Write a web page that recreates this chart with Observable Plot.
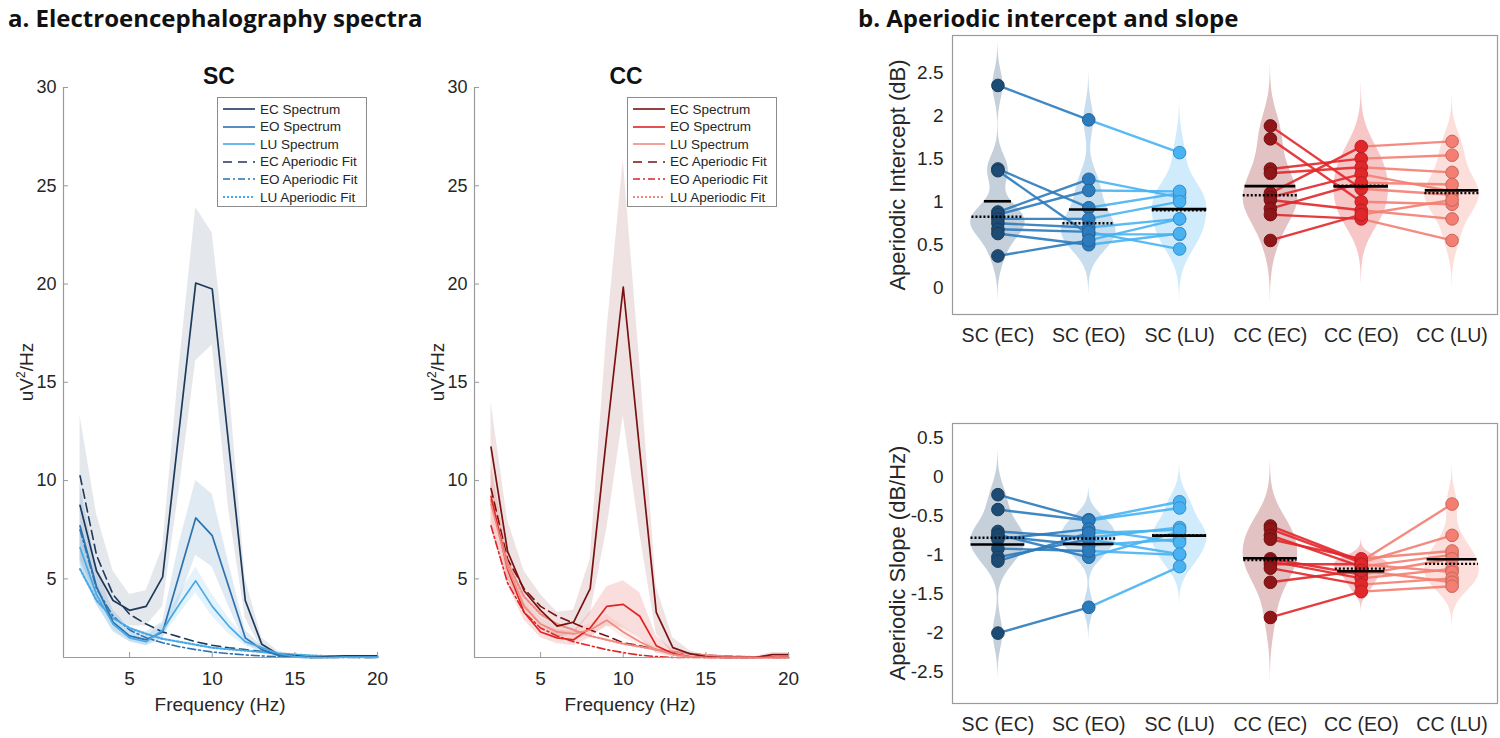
<!DOCTYPE html>
<html><head><meta charset="utf-8">
<script src="https://cdn.jsdelivr.net/npm/d3@7"></script>
<script src="https://cdn.jsdelivr.net/npm/@observablehq/plot@0.6"></script>
<style>
body{margin:0;background:#fff;}
#root{position:relative;width:1500px;height:738px;overflow:hidden;font-family:"Liberation Sans",Arial,Helvetica,sans-serif;color:#262626;background:#fff;}
.abs{position:absolute;white-space:nowrap;}
.ptitle{font-family:"Open Sans",sans-serif;font-weight:700;font-size:24px;color:#111;line-height:30px;}
.stitle{font-weight:700;font-size:23px;color:#111;transform:translate(-50%,-50%);}
.xlab{font-size:19px;transform:translate(-50%,-50%);}
.ylab{transform:translate(-50%,-50%) rotate(-90deg);}
.legend{position:absolute;border:1px solid #8c8c8c;background:#fff;width:150px;height:110px;box-sizing:border-box;}
.legend .row{position:absolute;left:4px;height:18px;display:flex;align-items:center;font-size:13.5px;white-space:nowrap;color:#262626;}
.legend svg{margin-right:4px;}
svg.plot{position:absolute;overflow:visible;}
</style></head><body><div id="root"></div>
<script>
// ---------- spectra data ----------
const freqs = [2,3,4,5,6,7,8,9,10,11,12,13,14,15,16,17,18,19,20];

const scEC   = [8.74,5.4,3.9,3.4,3.6,5.1,12.6,20.05,19.75,11.8,3.9,1.67,1.16,1.08,1.0,1.04,1.08,1.08,1.08];
const scECHi = [13.3,8.3,5.4,4.2,4.4,6.6,15.8,23.9,22.6,15.0,5.0,2.0,1.3,1.15,1.05,1.08,1.12,1.12,1.12];
const scECLo = [6.0,4.0,3.1,2.6,2.6,3.6,9.5,16.1,16.9,8.5,3.0,1.4,1.05,1.0,1.0,1.0,1.02,1.02,1.02];
const scEO   = [7.7,4.6,2.8,2.1,1.9,2.3,5.2,8.1,7.2,4.6,2.0,1.4,1.1,1.02,1.0,1.0,1.02,1.02,1.02];
const scEOHi = [9.8,5.6,3.4,2.5,2.3,2.8,6.8,10.0,9.3,5.8,2.4,1.55,1.2,1.08,1.03,1.04,1.06,1.06,1.06];
const scEOLo = [5.8,3.7,2.3,1.8,1.6,1.9,3.9,6.2,5.6,3.6,1.7,1.2,1.03,1.0,1.0,1.0,1.0,1.0,1.0];
const scLU   = [6.6,4.2,2.7,2.0,1.8,2.4,3.7,4.9,3.6,2.6,1.8,1.5,1.2,1.05,1.0,1.0,1.02,1.02,1.02];
const scLUHi = [7.6,4.8,3.1,2.3,2.1,2.7,4.2,5.6,4.2,3.0,2.0,1.6,1.25,1.08,1.03,1.03,1.05,1.05,1.05];
const scLULo = [5.6,3.7,2.4,1.8,1.6,2.1,3.2,4.3,3.1,2.2,1.6,1.35,1.1,1.0,1.0,1.0,1.0,1.0,1.0];
const scECFit = [10.25,6.2,4.2,3.2,2.7,2.3,2.05,1.8,1.62,1.5,1.4,1.3,1.2,1.12,1.07,1.04,1.02,1.0,1.0];
const scEOFit = [7.5,4.5,3.1,2.4,2.0,1.75,1.55,1.4,1.28,1.2,1.13,1.08,1.04,1.02,1.0,1.0,1.0,1.0,1.0];
const scLUFit = [5.5,3.9,3.0,2.5,2.2,1.95,1.8,1.65,1.5,1.42,1.35,1.28,1.2,1.15,1.1,1.07,1.05,1.03,1.02];

const ccEC   = [11.7,6.4,4.4,3.4,2.6,2.8,4.5,12.3,19.85,11.5,3.3,1.5,1.2,1.05,1.0,1.0,1.0,1.15,1.15];
const ccECHi = [14.0,8.0,5.4,4.2,3.3,3.4,6.0,17.5,26.3,16.0,4.6,2.0,1.35,1.1,1.03,1.03,1.05,1.25,1.25];
const ccECLo = [9.4,5.0,3.5,2.7,2.0,2.2,3.2,7.5,13.3,7.3,2.2,1.15,1.05,1.0,1.0,1.0,1.0,1.05,1.05];
const ccEO   = [9.2,5.5,3.3,2.3,2.0,1.9,2.5,3.6,3.7,3.1,1.6,1.2,1.05,1.0,1.0,1.0,1.0,1.0,1.0];
const ccEOHi = [10.8,6.3,3.8,2.7,2.4,2.3,3.3,4.6,4.9,4.3,2.1,1.4,1.1,1.03,1.02,1.02,1.02,1.02,1.02];
const ccEOLo = [7.6,4.7,2.9,2.0,1.7,1.6,2.0,2.6,2.5,2.0,1.2,1.05,1.0,1.0,1.0,1.0,1.0,1.0,1.0];
const ccLU   = [8.8,5.6,3.6,2.7,2.3,2.2,2.4,2.9,2.3,1.8,1.4,1.15,1.05,1.0,1.0,1.0,1.0,1.0,1.0];
const ccLUHi = [9.8,6.2,4.0,3.0,2.6,2.5,2.7,3.2,2.6,2.0,1.55,1.25,1.1,1.02,1.02,1.02,1.02,1.02,1.02];
const ccLULo = [7.8,5.0,3.2,2.4,2.0,1.9,2.1,2.6,2.0,1.6,1.25,1.05,1.0,1.0,1.0,1.0,1.0,1.0,1.0];
const ccECFit = [9.6,6.0,4.5,3.6,3.1,2.75,2.4,2.1,1.75,1.6,1.4,1.28,1.2,1.12,1.08,1.05,1.03,1.02,1.01];
const ccEOFit = [7.7,4.8,3.3,2.5,2.1,1.8,1.6,1.4,1.25,1.12,1.05,1.0,1.0,1.0,1.0,1.0,1.0,1.0,1.0];
const ccLUFit = [9.0,5.8,4.1,3.2,2.7,2.4,2.1,1.9,1.7,1.55,1.4,1.3,1.2,1.12,1.07,1.04,1.02,1.01,1.0];

const specTicksX = [5,10,15,20];
const specTicksY = [5,10,15,20,25,30];
const legendLabels = ["EC Spectrum","EO Spectrum","LU Spectrum","EC Aperiodic Fit","EO Aperiodic Fit","LU Aperiodic Fit"];

// ---------- aperiodic parameters (10 subjects per group) ----------
const catLabels = ["SC (EC)","SC (EO)","SC (LU)","CC (EC)","CC (EO)","CC (LU)"];
const scIntEC = [2.35,1.38,1.36,0.88,0.85,0.80,0.75,0.68,0.63,0.37];
const scIntEO = [1.95,0.93,0.62,1.26,1.13,0.80,0.70,0.65,0.50,0.55];
const scIntLU = [1.57,1.10,0.62,1.05,1.12,1.00,0.80,0.45,0.63,0.80];
const ccIntEC = [1.88,1.73,1.38,1.33,1.10,1.05,1.02,0.92,0.85,0.55];
const ccIntEO = [1.15,1.00,1.50,1.40,1.64,1.32,0.90,1.22,0.80,0.85];
const ccIntLU = [1.08,0.97,1.54,1.34,1.70,1.12,0.80,1.20,0.55,1.02];
const scSlpEC = [-0.23,-0.42,-0.70,-0.74,-0.76,-0.80,-0.92,-1.03,-1.08,-2.00];
const scSlpEO = [-0.55,-0.56,-0.78,-1.03,-0.88,-0.67,-0.95,-0.80,-0.72,-1.67];
const scSlpLU = [-0.32,-0.40,-0.65,-0.70,-0.80,-0.84,-1.00,-0.99,-0.68,-1.15];
const ccSlpEC = [-0.63,-0.67,-0.75,-0.80,-1.05,-1.08,-1.12,-1.17,-1.35,-1.80];
const ccSlpEO = [-1.08,-1.10,-1.15,-1.05,-1.25,-1.30,-1.12,-1.38,-1.20,-1.47];
const ccSlpLU = [-0.35,-0.75,-1.00,-0.95,-1.05,-1.18,-1.22,-1.30,-1.35,-1.40];
const intTicks = [0,0.5,1,1.5,2,2.5];
const slpTicks = [-2.5,-2,-1.5,-1,-0.5,0,0.5];

// ---------- colours ----------
const scLineCols = ["#1d3a5c","#2d72b0","#47a9e6"];
const ccLineCols = ["#7a1212","#e02424","#f08a80"];
const groupCols = ["#1d4b73","#2b7bbd","#48b2f2","#8e1518","#e2272b","#f47e72"];
const dashes = [null, "8,3,2,3", "2,2"];
const FONT = '"Liberation Sans", Arial, Helvetica, sans-serif';

const root = document.getElementById("root");
function place(node, left, top) {
  node.classList.add("plot");
  node.style.left = left + "px"; node.style.top = top + "px";
  root.appendChild(node);
}
function addDiv(cls, html, left, top, extra="") {
  const d = document.createElement("div");
  d.className = "abs " + cls; d.innerHTML = html;
  d.style.cssText += `left:${left}px;top:${top}px;${extra}`;
  root.appendChild(d); return d;
}

// ---------- spectra panels ----------
function specPlot(sets, cols) {
  const marks = [];
  sets.forEach((s, i) => marks.push(Plot.areaY(freqs, {x: freqs, y1: s.lo, y2: s.hi, fill: cols[i], fillOpacity: i === 0 ? 0.12 : 0.15})));
  sets.forEach((s, i) => marks.push(Plot.line(freqs, {x: freqs, y: s.fit, stroke: cols[i], strokeWidth: i === 2 ? 2.2 : 1.6, strokeDasharray: i === 0 ? "9,5" : dashes[i]})));
  sets.forEach((s, i) => marks.push(Plot.line(freqs, {x: freqs, y: s.y, stroke: cols[i], strokeWidth: 1.7})));
  marks.push(Plot.ruleX([1], {stroke: "#9a9a9a", strokeWidth: 1.2}));
  marks.push(Plot.ruleY([1], {stroke: "#9a9a9a", strokeWidth: 1.2}));
  marks.push(Plot.axisX({ticks: specTicksX, tickSize: -5, tickPadding: 19, stroke: "#9a9a9a", color: "#262626", fill: "#262626", fontSize: 19, label: null}));
  marks.push(Plot.axisY({ticks: specTicksY, tickSize: -5, tickPadding: 12, stroke: "#9a9a9a", color: "#262626", fill: "#262626", fontSize: 18, label: null}));
  return Plot.plot({
    width: 400, height: 630, marginLeft: 63, marginRight: 23, marginTop: 7, marginBottom: 53,
    x: {domain: [1, 20]}, y: {domain: [1, 30]},
    style: {fontFamily: FONT, fontSize: "19px", color: "#262626", background: "transparent"},
    marks
  });
}
const scSets = [{y: scEC, lo: scECLo, hi: scECHi, fit: scECFit}, {y: scEO, lo: scEOLo, hi: scEOHi, fit: scEOFit}, {y: scLU, lo: scLULo, hi: scLUHi, fit: scLUFit}];
const ccSets = [{y: ccEC, lo: ccECLo, hi: ccECHi, fit: ccECFit}, {y: ccEO, lo: ccEOLo, hi: ccEOHi, fit: ccEOFit}, {y: ccLU, lo: ccLULo, hi: ccLUHi, fit: ccLUFit}];
place(specPlot(scSets, scLineCols), 0, 80);
place(specPlot(ccSets, ccLineCols), 411, 80);

function legend(left, top, cols) {
  const d = document.createElement("div");
  d.className = "legend"; d.style.left = left + "px"; d.style.top = top + "px";
  legendLabels.forEach((lab, i) => {
    const c = cols[i % 3];
    const dash = i < 3 ? "" : (i === 3 ? "9,6" : i === 4 ? "7,3,2,3" : "2,2");
    const sw = i === 5 ? 2.2 : 1.6;
    const r = document.createElement("div");
    r.className = "row"; r.style.top = (2 + i * 17.6) + "px";
    r.innerHTML = `<svg width="34" height="10"><line x1="1" y1="5" x2="33" y2="5" stroke="${c}" stroke-width="${sw}" stroke-dasharray="${dash}"/></svg><span>${lab}</span>`;
    d.appendChild(r);
  });
  root.appendChild(d);
}
legend(217, 97, scLineCols);
legend(627, 97, ccLineCols);

// ---------- violin panels ----------
function kde(vals) {
  const n = vals.length, med = d3.median(vals);
  const mad = d3.median(vals.map(v => Math.abs(v - med)));
  const h = (mad / 0.6745) * Math.pow(4 / (3 * n), 0.2);
  const lo = d3.min(vals) - 3 * h, hi = d3.max(vals) + 3 * h;
  const f = y => d3.sum(vals, v => Math.exp(-0.5 * ((y - v) / h) ** 2));
  const ys = d3.range(121).map(k => lo + (hi - lo) * k / 120);
  const m = d3.max(ys, f);
  return {pts: ys.map(y => ({y, w: 0.3 * f(y) / m})), w: y => 0.3 * f(y) / m};
}
function violinPanel(groups, yDomain, yTicks, height, mTop, mBottom) {
  const K = groups.map(kde);
  const marks = [];
  groups.forEach((g, i) => marks.push(Plot.areaX(K[i].pts, {y: "y", x1: d => i + 1 - d.w, x2: d => i + 1 + d.w, fill: groupCols[i], fillOpacity: 0.26})));
  [[0,1],[1,2],[3,4],[4,5]].forEach(([a, b]) => {
    marks.push(Plot.link(d3.range(groups[a].length), {x1: () => a + 1, y1: j => groups[a][j], x2: () => b + 1, y2: j => groups[b][j], stroke: groupCols[b], strokeWidth: 2.4, strokeOpacity: 0.9}));
  });
  groups.forEach((g, i) => marks.push(Plot.dot(g, {x: () => i + 1, y: d => d, r: 6.3, fill: groupCols[i], stroke: d3.color(groupCols[i]).darker(0.6).formatHex(), strokeWidth: 1})));
  const idx = d3.range(groups.length);
  marks.push(Plot.ruleY(idx, {y: i => d3.mean(groups[i]), x1: i => i + 1 - K[i].w(d3.mean(groups[i])), x2: i => i + 1 + K[i].w(d3.mean(groups[i])), stroke: "#000", strokeWidth: 2.6}));
  marks.push(Plot.ruleY(idx, {y: i => d3.median(groups[i]), x1: i => i + 1 - K[i].w(d3.median(groups[i])), x2: i => i + 1 + K[i].w(d3.median(groups[i])), stroke: "#000", strokeWidth: 2.4, strokeDasharray: "2,2"}));
  marks.push(Plot.frame({stroke: "#9a9a9a", strokeWidth: 1.2}));
  marks.push(Plot.axisX({ticks: [1,2,3,4,5,6], tickFormat: t => catLabels[t - 1], tickSize: 0, tickPadding: 14, fontSize: 19.5, color: "#262626", label: null}));
  marks.push(Plot.axisY({ticks: yTicks, tickFormat: t => String(t), tickSize: 0, tickPadding: 9, color: "#262626", label: null}));
  return Plot.plot({
    width: 660, height, marginLeft: 112, marginRight: 3, marginTop: mTop, marginBottom: mBottom,
    x: {domain: [0.5, 6.5]}, y: {domain: yDomain},
    style: {fontFamily: FONT, fontSize: "19px", color: "#262626", background: "transparent"},
    marks
  });
}
place(violinPanel([scIntEC, scIntEO, scIntLU, ccIntEC, ccIntEO, ccIntLU], [-0.31, 2.93], intTicks, 340, 15, 46), 840, 20);
place(violinPanel([scSlpEC, scSlpEO, scSlpLU, ccSlpEC, ccSlpEO, ccSlpLU], [-2.9, 0.68], slpTicks, 338, 23, 35), 840, 400);

// ---------- text ----------
addDiv("ptitle", "a. Electroencephalography spectra", 8, 3);
addDiv("ptitle", "b. Aperiodic intercept and slope", 858, 3);
addDiv("stitle", "SC", 219, 76);
addDiv("stitle", "CC", 626, 76);
addDiv("xlab", "Frequency (Hz)", 220, 705);
addDiv("xlab", "Frequency (Hz)", 630, 705);
addDiv("xlab ylab", "uV<sup style='font-size:12px'>2</sup>/Hz", 24, 372, "font-size:19px;line-height:22px;");
addDiv("xlab ylab", "uV<sup style='font-size:12px'>2</sup>/Hz", 435, 372, "font-size:19px;line-height:22px;");
addDiv("xlab ylab", "Aperiodic Intercept (dB)", 898, 175, "font-size:22px;");
addDiv("xlab ylab", "Aperiodic Slope (dB/Hz)", 898, 563, "font-size:22px;");
</script></body></html>
